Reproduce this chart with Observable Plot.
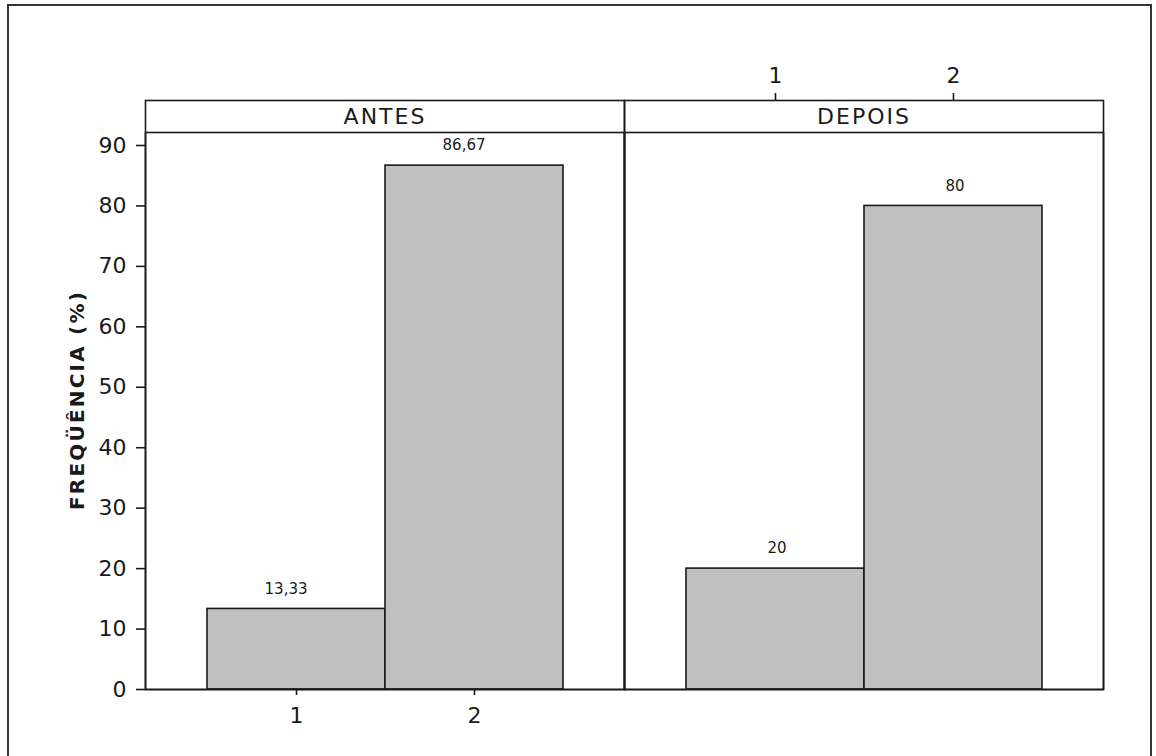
<!DOCTYPE html>
<html>
<head>
<meta charset="utf-8">
<script src="https://cdn.jsdelivr.net/npm/d3@7"></script>
<script src="https://cdn.jsdelivr.net/npm/@observablehq/plot@0.6"></script>
<style>
  html, body { margin: 0; padding: 0; background: #fff; overflow: hidden; }
  #wrap { position: relative; width: 1156px; height: 756px; overflow: hidden; background: #fff; }
  #border { position: absolute; left: 7px; top: 4px; width: 1145px; height: 800px; border: 2px solid #333; box-sizing: border-box; pointer-events: none; z-index: 2; }
  #chart { position: absolute; left: 0; top: 0; z-index: 1; }
  .ytitle text { letter-spacing: 2.2px; }
  .strip text { letter-spacing: 2px; }
</style>
</head>
<body>
<div id="wrap"><div id="chart"></div><div id="border"></div></div>
<script>
// Data
const periodos = ["ANTES", "DEPOIS"];
const categorias = ["1", "2"];
const freqAntes = [13.33, 86.67];
const freqDepois = [20, 80];
const yTicks = [0, 10, 20, 30, 40, 50, 60, 70, 80, 90];
const yTitle = "FREQÜÊNCIA (%)";

const rows = [];
categorias.forEach((c, i) => rows.push({periodo: periodos[0], cat: c, freq: freqAntes[i]}));
categorias.forEach((c, i) => rows.push({periodo: periodos[1], cat: c, freq: freqDepois[i]}));
const fmt = v => String(v).replace(".", ",");

const font = "DejaVu Sans, Verdana, sans-serif";
const ink = "#1a1a1a";

const chart = Plot.plot({
  width: 1156,
  height: 756,
  marginLeft: 145,
  marginRight: 53,
  marginTop: 132,
  marginBottom: 67,
  style: {fontFamily: font, fontSize: "22px", color: ink, background: "white"},
  fx: {domain: periodos, padding: 0, label: null},
  x: {domain: categorias, paddingInner: 0, paddingOuter: 0.338, label: null},
  y: {domain: [0, 92.15], label: null},
  marks: [
    Plot.barY(rows, {fx: "periodo", x: "cat", y: "freq", fill: "#c0c0c0", stroke: ink, strokeWidth: 1.6}),
    Plot.text(rows, {fx: "periodo", x: "cat", y: "freq", text: d => fmt(d.freq), textAnchor: "end", dx: 11, dy: -20, fontSize: 15, fill: ink}),
    Plot.frame({stroke: ink, strokeWidth: 1.6}),
    Plot.frame({stroke: ink, strokeWidth: 1.6, insetTop: -32}),
    Plot.axisFx({anchor: "top", tickSize: 0, tickPadding: 9, fontSize: 22, label: null, className: "strip", fill: ink}),
    Plot.axisY(yTicks, {anchor: "left", tickSize: 9, tickPadding: 10, fontSize: 22, label: null, stroke: ink, strokeWidth: 1.6, fill: ink}),
    Plot.axisX({anchor: "bottom", facetAnchor: "left", tickSize: 6, tickPadding: 12, fontSize: 22, label: null, stroke: ink, strokeWidth: 1.6, fill: ink}),
    Plot.axisX({anchor: "top", facetAnchor: "right", dy: -32, tickSize: 8, tickPadding: 10, fontSize: 22, label: null, stroke: ink, strokeWidth: 1.6, fill: ink}),
    Plot.text([yTitle], {frameAnchor: "left", facetAnchor: "left", rotate: -90, dx: -68, dy: -11, textAnchor: "middle", lineAnchor: "middle", fontSize: 20, fontWeight: "bold", fill: ink, className: "ytitle"})
  ]
});
document.getElementById("chart").appendChild(chart);
</script>
</body>
</html>
